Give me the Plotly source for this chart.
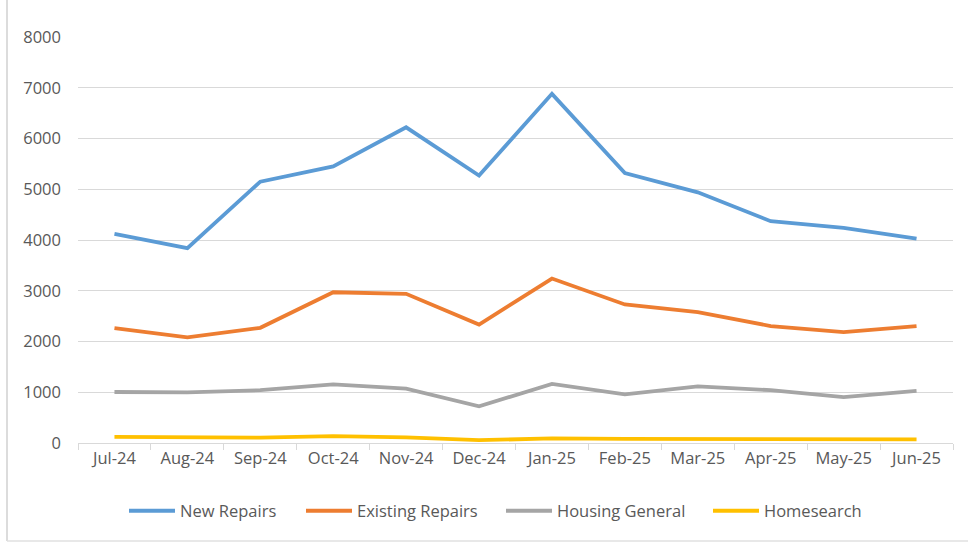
import plotly.graph_objects as go

months = ["Jul-24", "Aug-24", "Sep-24", "Oct-24", "Nov-24", "Dec-24",
          "Jan-25", "Feb-25", "Mar-25", "Apr-25", "May-25", "Jun-25"]

new_repairs = [4120, 3840, 5150, 5450, 6220, 5270, 6880, 5320, 4940, 4370, 4240, 4025]
existing_repairs = [2265, 2080, 2270, 2970, 2940, 2335, 3240, 2730, 2580, 2305, 2185, 2305]
housing_general = [1005, 998, 1040, 1155, 1070, 722, 1165, 960, 1115, 1040, 905, 1025]
homesearch = [120, 112, 105, 135, 112, 55, 90, 80, 80, 80, 78, 70]

y_ticks = [0, 1000, 2000, 3000, 4000, 5000, 6000, 7000, 8000]

series = [
    ("New Repairs", new_repairs, "#5B9BD5"),
    ("Existing Repairs", existing_repairs, "#ED7D31"),
    ("Housing General", housing_general, "#A5A5A5"),
    ("Homesearch", homesearch, "#FFC000"),
]

L, R, T, B = 78, 15, 37, 100
W, H = 968, 543
pw = W - L - R
ph = H - T - B

# pixel x where each legend entry's line sample starts (layout only)
legend_px = [130, 307, 507, 714]
legend_ids = ["legend", "legend2", "legend3", "legend4"]

fig = go.Figure()
for (name, vals, color), lid in zip(series, legend_ids):
    fig.add_trace(go.Scatter(
        x=months, y=vals, name=name, mode="lines",
        line=dict(color=color, width=3.8), legend=lid,
    ))

legend_y = -(511 - (H - B)) / ph
legend_layout = {}
for lid, px in zip(legend_ids, legend_px):
    legend_layout[lid] = dict(
        orientation="h", x=(px - 6 - L) / pw, xanchor="left",
        y=legend_y, yanchor="middle",
        font=dict(family="Open Sans", size=16.5, color="#595959"),
        itemwidth=46, bgcolor="rgba(0,0,0,0)",
    )

fig.update_layout(
    width=W, height=H,
    margin=dict(l=L, r=R, t=T, b=B, autoexpand=False),
    paper_bgcolor="white", plot_bgcolor="white",
    font=dict(family="Open Sans", size=16.5, color="#595959"),
    showlegend=True,
    xaxis=dict(
        type="category", range=[-0.5, len(months) - 0.5],
        showgrid=False, showline=True, linecolor="#D9D9D9", linewidth=1.2,
        ticks="outside", tickson="boundaries", ticklen=6, tickcolor="#D9D9D9",
        tickwidth=1.2, tickfont=dict(size=16.5, color="#595959"),
        fixedrange=True,
    ),
    yaxis=dict(
        range=[0, 8000], tickvals=y_ticks, ticktext=[str(v) for v in y_ticks],
        showgrid=True, gridcolor="#D9D9D9", gridwidth=1.2,
        zeroline=False, showline=False, ticks="", ticklabelstandoff=16,
        tickfont=dict(size=16.5, color="#595959"),
        fixedrange=True,
    ),
    shapes=[
        dict(type="line", xref="paper", yref="paper",
             x0=(7 - L) / pw, x1=(7 - L) / pw, y0=-(541 - (H - B)) / ph, y1=1 + T / ph,
             line=dict(color="#D0D0D0", width=1.5)),
        dict(type="line", xref="paper", yref="paper",
             x0=(7 - L) / pw, x1=1 + R / pw, y0=-(541 - (H - B)) / ph, y1=-(541 - (H - B)) / ph,
             line=dict(color="#E0E0E0", width=1.5)),
    ],
    **legend_layout,
)

fig.write_html("out.html", config={"displayModeBar": False},
               post_script="document.body.style.margin='0';document.body.style.padding='0';")
